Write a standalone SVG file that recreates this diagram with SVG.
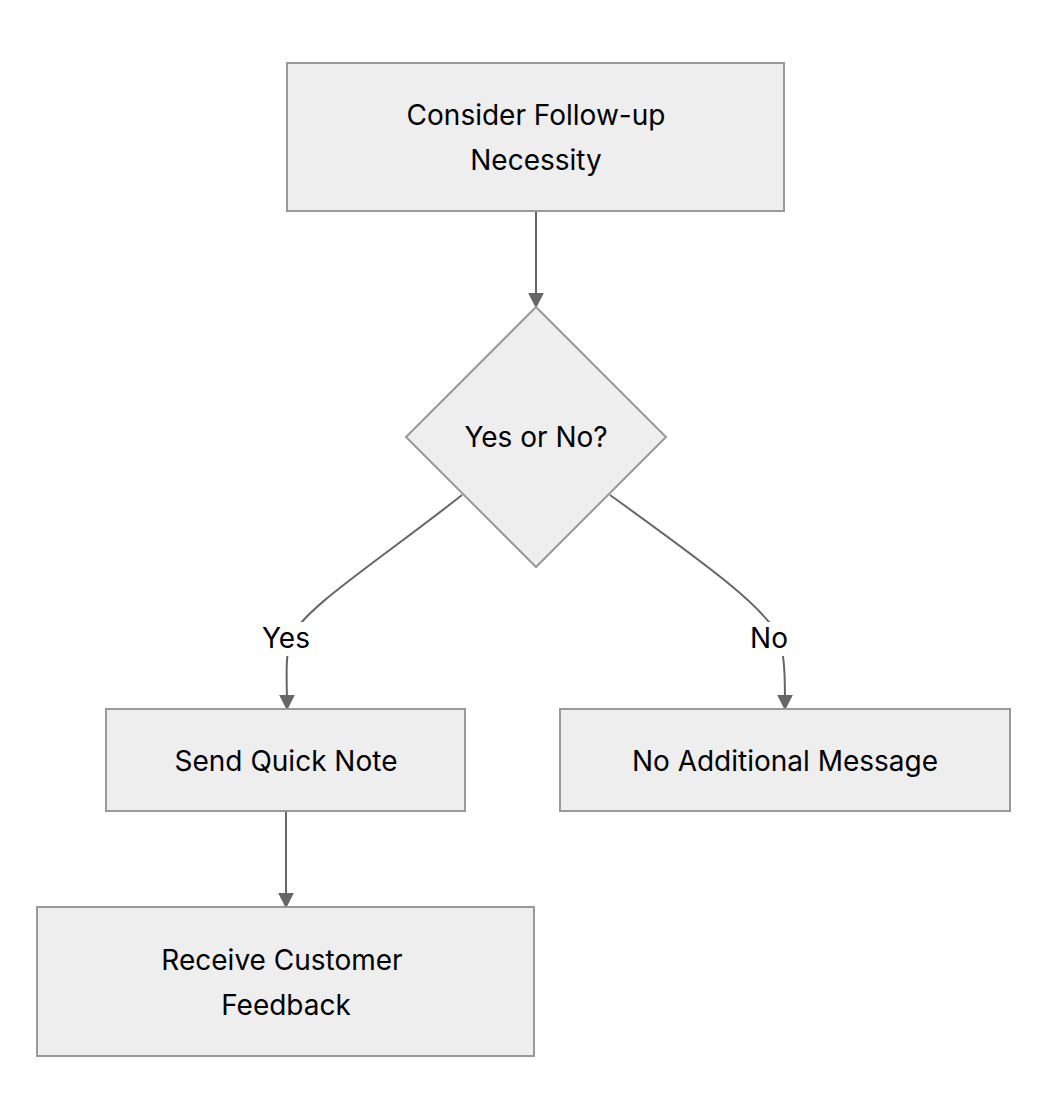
<svg xmlns="http://www.w3.org/2000/svg" width="1048" height="1120" viewBox="0 0 1048 1120">
<style>
.n{fill:#eeeeee;stroke:#999999;stroke-width:2}
.t{font-family:Inter,"Liberation Sans",sans-serif;font-size:28px;fill:#000;text-anchor:middle;dominant-baseline:central}
.e{fill:none;stroke:#666666;stroke-width:2}
</style>
<defs><marker id="a" viewBox="0 0 10 10" refX="9" refY="5" markerWidth="8" markerHeight="8" markerUnits="userSpaceOnUse" orient="auto"><path d="M0,0L10,5L0,10z" fill="#666666"/></marker>
<marker id="b" viewBox="0 0 10 10" refX="9" refY="5" markerWidth="16" markerHeight="16" markerUnits="userSpaceOnUse" orient="auto"><path d="M0,0L10,5L0,10z" fill="#666666"/></marker></defs>
<rect width="1048" height="1120" fill="#fff"/>
<g id="edges">
<path class="e" d="M536,211V307" marker-end="url(#b)"/>
<path class="e" d="M462,495C380,560 300,610 290,640C285,660 287,680 287,709" marker-end="url(#b)"/>
<path class="e" d="M610,495C700,560 770,610 780,640C785,660 785,680 785,709" marker-end="url(#b)"/>
<path class="e" d="M286,811V907" marker-end="url(#b)"/>
<rect x="258" y="622" width="58" height="34" fill="#fff"/>
<text class="t" x="286" y="638">Yes</text>
<rect x="746" y="622" width="46" height="34" fill="#fff"/>
<text class="t" x="769" y="638">No</text>
</g>
<g id="n1"><rect class="n" x="287" y="63" width="497" height="148"/><text class="t" x="536" y="115">Consider Follow-up</text><text class="t" x="536" y="160">Necessity</text></g>
<g id="n2"><path class="n" d="M536,307L666,437L536,567L406,437Z"/><text class="t" x="536" y="437">Yes or No?</text></g>
<g id="n3"><rect class="n" x="106" y="709" width="359" height="102"/><text class="t" x="286" y="761">Send Quick Note</text></g>
<g id="n4"><rect class="n" x="560" y="709" width="450" height="102"/><text class="t" x="785" y="761">No Additional Message</text></g>
<g id="n5"><rect class="n" x="37" y="907" width="497" height="149"/><text class="t" x="282" y="960">Receive Customer</text><text class="t" x="286" y="1005">Feedback</text></g>
</svg>
